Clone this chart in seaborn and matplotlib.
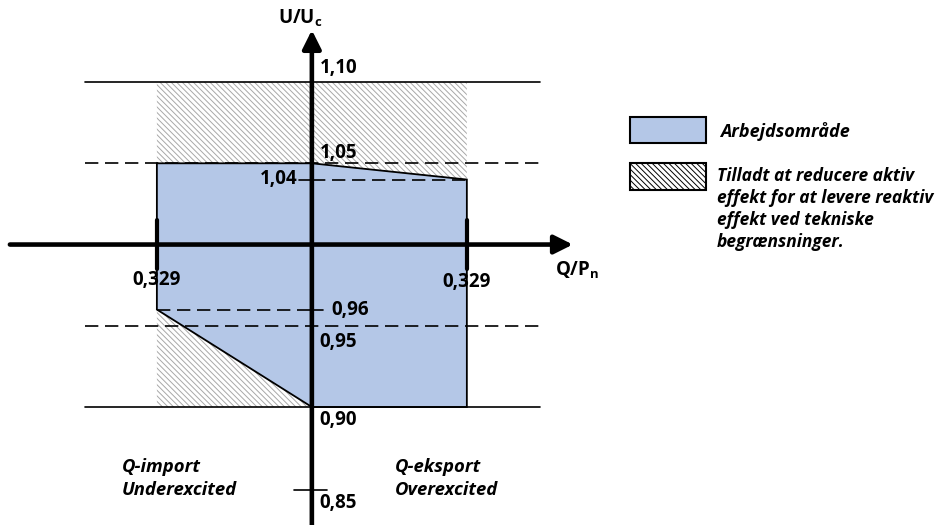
import matplotlib
matplotlib.use("Agg")
import matplotlib.pyplot as plt
import seaborn as sns
from matplotlib.patches import Polygon, Rectangle

# ========= Data =========
q_limit = 0.329
u_levels = [1.10, 1.05, 1.04, 0.96, 0.95, 0.90, 0.85]
u_labels = ["1,10", "1,05", "1,04", "0,96", "0,95", "0,90", "0,85"]
q_labels = ["0,329", "0,329"]

# working area (Q/Pn, U/Uc)
work_q = [-0.329, 0.0, 0.329, 0.329, 0.0, -0.329]
work_u = [1.05, 1.05, 1.04, 0.90, 0.90, 0.96]

# reduced active power areas
hatch_top_q = [-0.329, 0.329, 0.329, 0.0, -0.329]
hatch_top_u = [1.10, 1.10, 1.04, 1.05, 1.05]
hatch_low_q = [-0.329, 0.0, -0.329]
hatch_low_u = [0.96, 0.90, 0.90]

blue = "#B4C7E7"
hatch_grey = "#a8a8a8"
hatch = "\\\\\\\\\\\\"

# ========= Plot =========
sns.set_style("white")
plt.rcParams["font.family"] = ["Open Sans", "DejaVu Sans"]
plt.rcParams["text.color"] = "black"
plt.rcParams["hatch.linewidth"] = 0.7
plt.rcParams["hatch.color"] = hatch_grey

fig = plt.figure(figsize=(9.45, 5.25), dpi=100)
ax = fig.add_axes([0, 0, 1, 1])
ax.set_xlim(-0.662, 1.344)
ax.set_ylim(0.8274, 1.1505)
ax.axis("off")

ax.add_patch(Polygon(list(zip(hatch_top_q, hatch_top_u)), closed=True,
                     facecolor="white", edgecolor=hatch_grey, hatch=hatch, lw=0))
ax.add_patch(Polygon(list(zip(hatch_low_q, hatch_low_u)), closed=True,
                     facecolor="white", edgecolor=hatch_grey, hatch=hatch, lw=0))
ax.add_patch(Polygon(list(zip(work_q, work_u)), closed=True,
                     facecolor=blue, edgecolor="black", lw=1.3))

# long horizontal lines
dash = (0, (8, 4))
for u, ls in [(1.10, "-"), (1.05, dash), (0.95, dash), (0.90, "-")]:
    sns.lineplot(x=[-0.482, 0.484], y=[u, u], color="black", lw=1.2,
                 linestyle=ls, ax=ax)
# short dashed lines
sns.lineplot(x=[0.0, 0.329], y=[1.04, 1.04], color="black", lw=1.2,
             linestyle=dash, ax=ax)
sns.lineplot(x=[-0.329, 0.0], y=[0.96, 0.96], color="black", lw=1.2,
             linestyle=dash, ax=ax)

# small ticks
ax.plot([-0.028, 0], [1.04, 1.04], color="black", lw=1.2)
ax.plot([0, 0.024], [0.96, 0.96], color="black", lw=1.2)
ax.plot([-0.038, 0.032], [0.849, 0.849], color="black", lw=1.2)
for q in [-q_limit, q_limit]:
    ax.plot([q, q], [0.985, 1.015], color="black", lw=3)

# axes with arrows
ax.annotate("", xy=(0.554, 1.0), xytext=(-0.641, 1.0),
            arrowprops=dict(arrowstyle="-|>", lw=3.3, color="black",
                            mutation_scale=28, shrinkA=0, shrinkB=0))
ax.annotate("", xy=(0.0, 1.132), xytext=(0.0, 0.8274),
            arrowprops=dict(arrowstyle="-|>", lw=3.3, color="black",
                            mutation_scale=28, shrinkA=0, shrinkB=0))

# tick labels
fs = 13.5
bold = dict(fontsize=fs, fontweight="bold", va="center")
ax.text(0.017, 1.1086, u_labels[0], **bold)
ax.text(0.017, 1.0563, u_labels[1], **bold)
ax.text(-0.030, 1.0403, u_labels[2], ha="right", **bold)
ax.text(0.042, 0.9597, u_labels[3], **bold)
ax.text(0.017, 0.940, u_labels[4], **bold)
ax.text(0.017, 0.892, u_labels[5], **bold)
ax.text(0.017, 0.841, u_labels[6], **bold)
ax.text(-q_limit, 0.978, q_labels[0], ha="center", **bold)
ax.text(q_limit, 0.977, q_labels[1], ha="center", **bold)

ax.text(0.516, 0.984, r"Q/P$_\mathregular{n}$", **bold)
ax.text(-0.025, 1.139, r"U/U$_\mathregular{c}$", ha="center", **bold)

ax.text(-0.403, 0.856, "Q-import\nUnderexcited", fontsize=13.3, fontweight="bold",
        style="italic", va="center", linespacing=1.3)
ax.text(0.176, 0.856, "Q-eksport\nOverexcited", fontsize=13.3, fontweight="bold",
        style="italic", va="center", linespacing=1.3)

# legend
ax.add_patch(Rectangle((0.675, 1.0625), 0.162, 0.016, facecolor=blue,
                       edgecolor="black", lw=1.5))
ax.add_patch(Rectangle((0.675, 1.0335), 0.162, 0.0165, facecolor="white",
                       edgecolor="black", lw=1.5, hatch=hatch))
ax.text(0.866, 1.0695, "Arbejdsområde", fontsize=13, fontweight="bold",
        style="italic", va="center")
ax.text(0.860, 1.048, "Tilladt at reducere aktiv\neffekt for at levere reaktiv\n"
        "effekt ved tekniske\nbegrænsninger.", fontsize=12.5, fontweight="bold",
        style="italic", va="top", linespacing=1.3)

fig.savefig("out.png", dpi=100)
